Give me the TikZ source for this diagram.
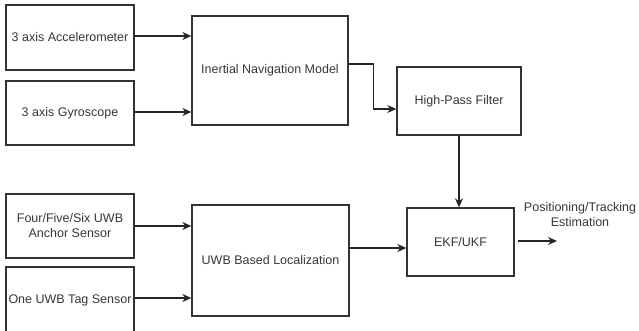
\documentclass[tikz,border=0pt]{standalone}
\usepackage{fontspec}
\setmainfont{Liberation Sans}
\usepackage{tikz}
\usetikzlibrary{arrows.meta}
\definecolor{txtgray}{RGB}{55,55,55}
\tikzset{
	blk/.style={draw=black!80, line width=1.3pt, text=txtgray, align=center,
		font=\fontsize{12.5}{15}\selectfont, inner sep=0pt},
	arr/.style={line width=1.3pt, draw=black!85, -{Stealth[length=9pt,width=8pt]}}
}
\begin{document}
\begin{tikzpicture}[x=1pt, y=-1pt]
	\useasboundingbox (0,0) rectangle (639,331);

	% sensors
	\node [blk, minimum width=128pt, minimum height=65pt] (acc) at (70,37.5) {3 axis Accelerometer};
	\node [blk, minimum width=128pt, minimum height=64pt] (gyro) at (70,113) {3 axis Gyroscope};
	\node [blk, minimum width=128pt, minimum height=64pt] (anchor) at (70,226) {Four/Five/Six UWB\\Anchor Sensor};
	\node [blk, minimum width=128pt, minimum height=66pt] (tag) at (70,300) {One UWB Tag Sensor};

	% processing
	\node [blk, minimum width=156pt, minimum height=109pt] (inm) at (270,70.5) {Inertial Navigation Model};
	\node [blk, minimum width=157pt, minimum height=111pt] (uwb) at (270.5,260.5) {UWB Based Localization};
	\node [blk, minimum width=124pt, minimum height=68pt] (hpf) at (459,101) {High-Pass Filter};
	\node [blk, minimum width=107pt, minimum height=68pt] (ekf) at (460.5,242) {EKF/UKF};

	\node [text=txtgray, align=center, font=\fontsize{12.5}{15}\selectfont] (est) at (580,215) {Positioning/Tracking\\Estimation};

	\draw [arr] ([yshift=1.5pt]acc.east) -- ([yshift=1.5pt]acc.east -| inm.west);
	\draw [arr] ([yshift=1pt]gyro.east) -- ([yshift=1pt]gyro.east -| inm.west);
	\draw [arr] (anchor.east) -- (anchor.east -| uwb.west);
	\draw [arr] ([yshift=2pt]tag.east) -- ([yshift=2pt]tag.east -| uwb.west);

	\coordinate (hin) at ([yshift=-8pt]hpf.west);
	\draw [arr] ([yshift=6.5pt]inm.east) -| ([xshift=25pt]inm.east |- hin) -- (hin);
	\draw [arr] (hpf.south) -- (hpf.south |- ekf.north);

	\coordinate (ein) at ([yshift=-6pt]ekf.west);
	\draw [arr] (uwb.east |- ein) -- (ein);

	\coordinate (out) at (557,241);
	\draw [arr] ([xshift=3pt]ekf.east |- out) -- (out);
\end{tikzpicture}
\end{document}
